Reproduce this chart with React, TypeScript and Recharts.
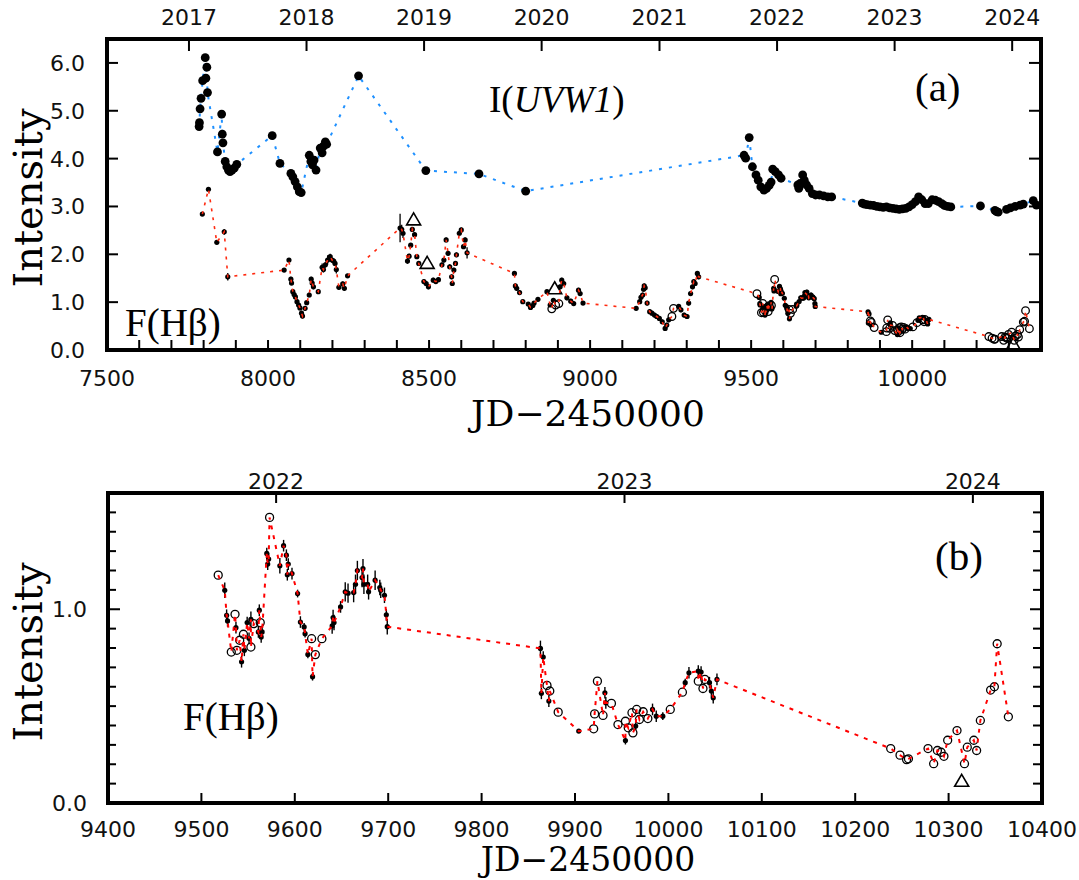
import React from "react";
import {
  ErrorBar,
  ReferenceArea,
  Scatter,
  ScatterChart,
  XAxis,
  YAxis,
} from "recharts";

// I(UVW1), panel (a)
const uvwJd = [
  7786, 7787, 7789, 7792, 7797, 7805, 7807, 7810, 7812, 7843, 7856, 7858, 7860,
  7867, 7872, 7877, 7882, 7888, 7895, 7903, 8013, 8037, 8071, 8077, 8084, 8091,
  8097, 8103, 8128, 8133, 8138, 8143, 8149, 8162, 8168, 8172, 8178, 8182, 8281,
  8490, 8655, 8800, 9478, 9483, 9494, 9504, 9515, 9522, 9530, 9540, 9548, 9556,
  9562, 9567, 9575, 9585, 9593, 9645, 9648, 9652, 9660, 9665, 9672, 9680, 9690,
  9700, 9712, 9725, 9738, 9750, 9845, 9852, 9860, 9870, 9880, 9890, 9900, 9910,
  9920, 9930, 9940, 9950, 9960, 9970, 9980, 9990, 10000, 10010, 10020, 10030,
  10040, 10050, 10062, 10072, 10082, 10092, 10100, 10110, 10120, 10212, 10257,
  10262, 10267, 10293, 10305, 10320, 10335, 10345, 10376, 10386,
];
const uvwFlux = [
  4.67, 4.75, 5.04, 5.26, 5.63, 6.11, 5.68, 5.91, 5.38, 4.14, 4.93, 4.51, 4.33,
  3.94, 3.83, 3.76, 3.73, 3.76, 3.8, 3.88, 4.48, 3.9, 3.69, 3.62, 3.52, 3.41,
  3.31, 3.29, 4.07, 3.94, 3.87, 3.97, 3.76, 4.22, 4.12, 4.26, 4.35, 4.3, 5.73,
  3.75, 3.68, 3.32, 4.07, 4.01, 4.44, 3.83, 3.66, 3.55, 3.41, 3.34, 3.38, 3.44,
  3.51, 3.78, 3.73, 3.66, 3.59, 3.45, 3.38, 3.48, 3.66, 3.55, 3.45, 3.38, 3.27,
  3.24, 3.24, 3.22, 3.2, 3.2, 3.07, 3.05, 3.04, 3.03, 3.02, 3.0, 2.99, 2.98,
  2.99, 2.97, 2.96, 2.95, 2.94, 2.95, 2.96, 2.99, 3.04, 3.1, 3.2, 3.14, 3.06,
  3.06, 3.14, 3.13, 3.1, 3.06, 3.02, 3.0, 2.99, 3.01, 2.92, 2.89, 2.88, 2.94,
  2.97, 3.0, 3.03, 3.05, 3.12, 3.03,
];

// F(Hbeta), filled points with error bars
const hbJd = [
  7796, 7815, 7841, 7864, 7875, 8050, 8065, 8071, 8073, 8077, 8081, 8085, 8090,
  8095, 8099, 8104, 8107, 8115, 8120, 8128, 8134, 8137, 8141, 8156, 8168, 8172,
  8178, 8185, 8193, 8199, 8204, 8208, 8212, 8220, 8232, 8237, 8247, 8410, 8415,
  8419, 8433, 8438, 8443, 8448, 8455, 8462, 8468, 8484, 8491, 8498, 8513, 8521,
  8529, 8540, 8546, 8553, 8559, 8564, 8570, 8572, 8577, 8582, 8585, 8594, 8600,
  8607, 8612, 8618, 8765, 8768, 8772, 8781, 8791, 8808, 8815, 8822, 8826, 8838,
  8866, 8876, 8886, 8907, 8912, 8918, 8928, 8940, 8949, 8964, 8969, 8978, 9143,
  9154, 9158, 9163, 9166, 9168, 9171, 9177, 9185, 9192, 9200, 9207, 9215, 9224,
  9233, 9238, 9244, 9275, 9282, 9292, 9301, 9306, 9312, 9318, 9322, 9326, 9333,
  9337, 9525, 9527, 9528, 9537, 9543, 9546, 9549, 9551, 9553, 9561, 9562, 9564,
  9565, 9570, 9571, 9572, 9584, 9588, 9591, 9592, 9593, 9597, 9603, 9606, 9610,
  9611, 9614, 9619, 9640, 9641, 9642, 9649, 9654, 9657, 9663, 9665, 9667, 9672,
  9673, 9674, 9678, 9679, 9686, 9691, 9692, 9696, 9698, 9699, 9863, 9864, 9866,
  9872, 9904, 9932, 9933, 9954, 9965, 9983, 9987, 9994, 10018, 10022, 10032,
  10035, 10044, 10046, 10048, 10052,
];
const hbFlux = [
  2.84, 3.36, 2.25, 2.47, 1.53, 1.67, 1.88, 1.48, 1.4, 1.22, 1.16, 1.11, 1.01,
  0.94, 0.88, 0.77, 0.71, 0.87, 0.99, 1.15, 1.48, 1.4, 1.32, 1.22, 1.73, 1.68,
  1.78, 1.88, 1.95, 1.88, 1.86, 1.81, 1.68, 1.31, 1.38, 1.29, 1.55, 2.55, 2.52,
  2.44, 1.86, 1.96, 2.19, 2.52, 2.41, 1.95, 1.81, 1.43, 1.39, 1.32, 1.46, 1.43,
  1.47, 1.78, 1.88, 2.3, 2.02, 1.74, 1.53, 1.39, 1.67, 1.81, 1.99, 2.44, 2.51,
  2.16, 2.3, 2.03, 1.6, 1.34, 1.29, 1.2, 1.01, 0.96, 0.89, 0.93, 0.98, 1.06,
  1.22, 0.94, 1.04, 1.32, 1.46, 1.39, 1.09, 1.02, 0.97, 1.25, 1.18, 0.98, 0.87,
  1.01, 1.1, 1.15, 1.27, 1.34, 1.3, 0.98, 0.8, 0.77, 0.73, 0.7, 0.66, 0.59,
  0.45, 0.52, 0.63, 0.91, 0.84, 0.73, 0.7, 0.98, 1.18, 1.32, 1.43, 1.39, 1.6,
  1.53, 1.098, 0.969, 0.94, 0.905, 0.729, 0.788, 0.931, 0.85, 0.948, 0.883,
  0.995, 0.857, 0.883, 1.288, 1.233, 1.259, 1.224, 1.328, 1.279, 1.178, 1.233,
  1.184, 1.081, 0.934, 0.909, 0.874, 0.767, 0.652, 0.914, 0.957, 0.931, 1.012,
  1.09, 1.083, 1.086, 1.129, 1.2, 1.164, 1.21, 1.129, 1.129, 1.09, 1.15, 1.112,
  1.098, 1.072, 0.971, 0.91, 0.798, 0.566, 0.753, 0.526, 0.371, 0.569, 0.517,
  0.322, 0.397, 0.483, 0.448, 0.448, 0.621, 0.672, 0.681, 0.676, 0.621, 0.578,
  0.543, 0.638,
];
const hbErr = [
  0.04, 0.04, 0.04, 0.06, 0.08, 0.04, 0.04, 0.05, 0.05, 0.05, 0.05, 0.05, 0.05,
  0.05, 0.05, 0.05, 0.05, 0.05, 0.05, 0.05, 0.05, 0.05, 0.05, 0.04, 0.08, 0.06,
  0.06, 0.1, 0.06, 0.05, 0.05, 0.05, 0.08, 0.05, 0.05, 0.05, 0.04, 0.3, 0.1,
  0.1, 0.06, 0.05, 0.04, 0.05, 0.05, 0.05, 0.05, 0.05, 0.05, 0.05, 0.05, 0.05,
  0.05, 0.05, 0.05, 0.05, 0.05, 0.05, 0.05, 0.05, 0.05, 0.05, 0.05, 0.05, 0.05,
  0.05, 0.05, 0.12, 0.04, 0.05, 0.05, 0.05, 0.04, 0.04, 0.04, 0.04, 0.04, 0.04,
  0.04, 0.04, 0.04, 0.05, 0.05, 0.05, 0.05, 0.05, 0.05, 0.05, 0.05, 0.04, 0.04,
  0.05, 0.05, 0.05, 0.05, 0.05, 0.05, 0.05, 0.05, 0.05, 0.05, 0.05, 0.05, 0.05,
  0.05, 0.05, 0.05, 0.05, 0.05, 0.05, 0.05, 0.05, 0.05, 0.05, 0.05, 0.05, 0.05,
  0.05, 0.04, 0.03, 0.03, 0.03, 0.03, 0.03, 0.03, 0.03, 0.04, 0.03, 0.03, 0.03,
  0.03, 0.03, 0.03, 0.03, 0.04, 0.03, 0.03, 0.03, 0.03, 0.03, 0.02, 0.03, 0.02,
  0.02, 0.02, 0.02, 0.04, 0.04, 0.04, 0.03, 0.05, 0.05, 0.05, 0.05, 0.05, 0.05,
  0.05, 0.05, 0.05, 0.04, 0.05, 0.04, 0.04, 0.04, 0.03, 0.04, 0.04, 0.03, 0.03,
  0.03, 0.01, 0.03, 0.03, 0.02, 0.02, 0.03, 0.03, 0.02, 0.02, 0.03, 0.03, 0.03,
  0.03, 0.03, 0.03, 0.03,
];

// F(Hbeta), open circles
const hbOpenJd = [
  8881, 8893, 8903, 9254, 9259, 9518, 9532, 9536, 9538, 9541, 9545, 9553, 9556,
  9563, 9573, 9618, 9622, 9629, 9870, 9873, 9882, 9920, 9921, 9924, 9930, 9939,
  9946, 9954, 9957, 9961, 9962, 9966, 9969, 9973, 9978, 10002, 10015, 10032,
  10037, 10039, 10238, 10248, 10255, 10257, 10278, 10284, 10288, 10292, 10295,
  10299, 10309, 10317, 10320, 10327, 10330, 10334, 10345, 10349, 10352, 10364,
];
const hbOpenFlux = [
  0.86, 0.94, 0.97, 0.7, 0.87, 1.176, 0.779, 0.974, 0.788, 0.84, 0.871, 0.805,
  0.926, 0.931, 1.474, 0.848, 0.766, 0.848, 0.607, 0.578, 0.469, 0.383, 0.46,
  0.629, 0.452, 0.514, 0.405, 0.422, 0.388, 0.466, 0.362, 0.483, 0.431, 0.471,
  0.436, 0.483, 0.572, 0.629, 0.591, 0.638, 0.281, 0.247, 0.224, 0.228, 0.281,
  0.203, 0.271, 0.262, 0.241, 0.324, 0.374, 0.203, 0.288, 0.324, 0.271, 0.426,
  0.583, 0.6, 0.822, 0.445,
];

// F(Hbeta), triangles
const hbTriJd = [8452, 8494, 8890, 10314];
const hbTriFlux = [2.72, 1.81, 1.28, 0.112];

// axes, panel (a)
const jdLabelsA = [7500, 8000, 8500, 9000, 9500, 10000];
const jdMinorA = [
  7600, 7700, 7800, 7900, 8000, 8100, 8200, 8300, 8400, 8500, 8600, 8700, 8800,
  8900, 9000, 9100, 9200, 9300, 9400, 9500, 9600, 9700, 9800, 9900, 10000,
  10100, 10200, 10300,
];
const yearJdA = [7754.5, 8119.5, 8484.5, 8849.5, 9215.5, 9580.5, 9945.5, 10310.5];
const yearLabelsA = ["2017", "2018", "2019", "2020", "2021", "2022", "2023", "2024"];
const yLabelsA = [0, 1, 2, 3, 4, 5, 6];
const yMajorA = [1, 2, 3, 4, 5, 6];

// axes, panel (b)
const jdLabelsB = [9400, 9500, 9600, 9700, 9800, 9900, 10000, 10100, 10200, 10300, 10400];
const jdMinorB = [9500, 9600, 9700, 9800, 9900, 10000, 10100, 10200, 10300];
const yearJdB = [9580, 9953, 10326];
const yearLabelsB = ["2022", "2023", "2024"];
const yLabelsB = [0, 1];
const yMinorB = [0.1, 0.2, 0.3, 0.4, 0.5, 0.6, 0.7, 0.8, 0.9, 1.1, 1.2, 1.3, 1.4, 1.5];
const yMajorB = [1];

type Pt = { x: number; y: number; err: number };
const toPts = (xs: number[], ys: number[], es?: number[]): Pt[] =>
  xs.map((x, i) => ({ x, y: ys[i], err: es ? es[i] : 0 }));

const uvwPts = toPts(uvwJd, uvwFlux);
const hbPts = toPts(hbJd, hbFlux, hbErr);
const hbOpenPts = toPts(hbOpenJd, hbOpenFlux);
const hbTriPts = toPts(hbTriJd, hbTriFlux);
const hbLinePts = [...hbPts, ...hbOpenPts].sort((a, b) => a.x - b.x);
const inB = (p: Pt) => p.x >= 9400;

const tickStroke = { stroke: "#000", strokeWidth: 2 };

// tick label drawn by hand so the font sticks
const label =
  (fmt: (v: number) => string, anchor: string, dy: string) => (p: any) => (
    <text x={p.x} y={p.y} dy={dy} textAnchor={anchor} fontFamily="DejaVu Sans"
      fontSize={22} fill="#111">
      {fmt(p.payload.value)}
    </text>
  );
const jdFmt = (v: number) => String(v);
const yFmt = (v: number) => v.toFixed(1);
const yearFmtA = (v: number) => yearLabelsA[yearJdA.indexOf(v)];
const yearFmtB = (v: number) => yearLabelsB[yearJdB.indexOf(v)];
const noLabel = () => <g />;

const dot = (r: number) => (p: any) => <circle cx={p.cx} cy={p.cy} r={r} fill="#000" />;
const ring = (r: number) => (p: any) => (
  <circle cx={p.cx} cy={p.cy} r={r} fill="none" stroke="#000" strokeWidth={1.3} />
);
const tri = (p: any) => (
  <path
    d={`M${p.cx},${p.cy - 7} L${p.cx + 7},${p.cy + 5} L${p.cx - 7},${p.cy + 5} Z`}
    fill="none"
    stroke="#000"
    strokeWidth={1.6}
  />
);
const none = () => <g />;

function PanelA() {
  const dom: [number, number] = [7500, 10400];
  const ydom: [number, number] = [0, 6.5];
  return (
    <ScatterChart width={1079} height={400} margin={{ top: 0, right: 38, bottom: 10, left: 0 }}>
      <XAxis xAxisId="b" type="number" dataKey="x" domain={dom} allowDataOverflow ticks={jdLabelsA}
        interval={0} height={40} tickLine={false} axisLine={false} tickSize={6} tickMargin={14}
        tick={label(jdFmt, "middle", "0.73em")} />
      <XAxis xAxisId="bm" type="number" dataKey="x" domain={dom} allowDataOverflow ticks={jdMinorA}
        interval={0} mirror height={1} tick={noLabel} axisLine={false} tickSize={10} tickLine={tickStroke} />
      <XAxis xAxisId="t" orientation="top" type="number" dataKey="x" domain={dom} allowDataOverflow
        ticks={yearJdA} interval={0} height={39} tickLine={false} axisLine={false} tickSize={6}
        tickMargin={8} tick={label(yearFmtA, "middle", "0")} />
      <XAxis xAxisId="tm" orientation="top" type="number" dataKey="x" domain={dom} allowDataOverflow
        ticks={yearJdA} interval={0} mirror height={1} tick={noLabel} axisLine={false} tickSize={12}
        tickLine={tickStroke} />
      <YAxis yAxisId="l" type="number" dataKey="y" domain={ydom} allowDataOverflow ticks={yLabelsA}
        interval={0} width={107} tickLine={false} axisLine={false} tickSize={6} tickMargin={16}
        tick={label(yFmt, "end", "0.36em")} />
      <YAxis yAxisId="lm" type="number" dataKey="y" domain={ydom} allowDataOverflow ticks={yMajorA}
        interval={0} mirror width={1} tick={noLabel} axisLine={false} tickSize={11} tickLine={tickStroke} />
      <YAxis yAxisId="rm" orientation="right" type="number" dataKey="y" domain={ydom} allowDataOverflow
        ticks={yMajorA} interval={0} mirror width={1} tick={noLabel} axisLine={false} tickSize={12}
        tickLine={tickStroke} />

      <Scatter xAxisId="b" yAxisId="l" data={uvwPts} shape={dot(4.4)} isAnimationActive={false}
        line={{ stroke: "#1e90ff", strokeWidth: 2, strokeDasharray: "3 7" }} lineType="joint" />
      <Scatter xAxisId="b" yAxisId="l" data={hbPts} shape={dot(2.6)} isAnimationActive={false}>
        <ErrorBar dataKey="err" direction="y" width={0} stroke="#000" strokeWidth={1.3} isAnimationActive={false} />
      </Scatter>
      <Scatter xAxisId="b" yAxisId="l" data={hbOpenPts} shape={ring(3.8)} isAnimationActive={false} />
      <Scatter xAxisId="b" yAxisId="l" data={hbTriPts} shape={tri} isAnimationActive={false} />
      <Scatter xAxisId="b" yAxisId="l" data={hbLinePts} shape={none} isAnimationActive={false}
        line={{ stroke: "#ff2a10", strokeWidth: 1.6, strokeDasharray: "3 6" }} lineType="joint" />

      <ReferenceArea xAxisId="b" yAxisId="l" x1={7500} x2={10400} y1={0} y2={6.5}
        fill="none" stroke="#000" strokeWidth={4} />
    </ScatterChart>
  );
}

function PanelB() {
  const dom: [number, number] = [9400, 10400];
  const ydom: [number, number] = [0, 1.6];
  return (
    <ScatterChart width={1079} height={440} margin={{ top: 0, right: 37, bottom: 37, left: 0 }}>
      <XAxis xAxisId="b" type="number" dataKey="x" domain={dom} allowDataOverflow ticks={jdLabelsB}
        interval={0} height={40} tickLine={false} axisLine={false} tickSize={6} tickMargin={12}
        tick={label(jdFmt, "middle", "0.73em")} />
      <XAxis xAxisId="bm" type="number" dataKey="x" domain={dom} allowDataOverflow ticks={jdMinorB}
        interval={0} mirror height={1} tick={noLabel} axisLine={false} tickSize={10} tickLine={tickStroke} />
      <XAxis xAxisId="t" orientation="top" type="number" dataKey="x" domain={dom} allowDataOverflow
        ticks={yearJdB} interval={0} height={53} tickLine={false} axisLine={false} tickSize={0}
        tickMargin={4} tick={label(yearFmtB, "middle", "0")} />
      <XAxis xAxisId="tm" orientation="top" type="number" dataKey="x" domain={dom} allowDataOverflow
        ticks={yearJdB} interval={0} mirror height={1} tick={noLabel} axisLine={false} tickSize={10}
        tickLine={tickStroke} />
      <YAxis yAxisId="l" type="number" dataKey="y" domain={ydom} allowDataOverflow ticks={yLabelsB}
        interval={0} width={108} tickLine={false} axisLine={false} tickSize={6} tickMargin={15}
        tick={label(yFmt, "end", "0.36em")} />
      <YAxis yAxisId="lm" type="number" dataKey="y" domain={ydom} allowDataOverflow ticks={yMinorB}
        interval={0} mirror width={1} tick={noLabel} axisLine={false} tickSize={7} tickLine={tickStroke} />
      <YAxis yAxisId="lM" type="number" dataKey="y" domain={ydom} allowDataOverflow ticks={yMajorB}
        interval={0} mirror width={1} tick={noLabel} axisLine={false} tickSize={12} tickLine={tickStroke} />
      <YAxis yAxisId="rm" orientation="right" type="number" dataKey="y" domain={ydom} allowDataOverflow
        ticks={yMinorB} interval={0} mirror width={1} tick={noLabel} axisLine={false} tickSize={8}
        tickLine={tickStroke} />
      <YAxis yAxisId="rM" orientation="right" type="number" dataKey="y" domain={ydom} allowDataOverflow
        ticks={yMajorB} interval={0} mirror width={1} tick={noLabel} axisLine={false} tickSize={12}
        tickLine={tickStroke} />

      <Scatter xAxisId="b" yAxisId="l" data={hbPts.filter(inB)} shape={dot(2.6)} isAnimationActive={false}>
        <ErrorBar dataKey="err" direction="y" width={0} stroke="#000" strokeWidth={1.4} isAnimationActive={false} />
      </Scatter>
      <Scatter xAxisId="b" yAxisId="l" data={hbOpenPts.filter(inB)} shape={ring(4)} isAnimationActive={false} />
      <Scatter xAxisId="b" yAxisId="l" data={hbTriPts.filter(inB)} shape={tri} isAnimationActive={false} />
      <Scatter xAxisId="b" yAxisId="l" data={hbLinePts.filter(inB)} shape={none} isAnimationActive={false}
        line={{ stroke: "#ff0000", strokeWidth: 2, strokeDasharray: "4 6" }} lineType="joint" />

      <ReferenceArea xAxisId="b" yAxisId="l" x1={9400} x2={10400} y1={0} y2={1.6}
        fill="none" stroke="#000" strokeWidth={4} />
    </ScatterChart>
  );
}

const serif = "Liberation Serif";
const titleSerif = "DejaVu Serif";

export default function App() {
  return (
    <div style={{ position: "absolute", left: 0, top: 0, width: 1079, height: 880, background: "#fff" }}>
      <div style={{ position: "absolute", left: 0, top: 0 }}>
        <PanelA />
      </div>
      <div style={{ position: "absolute", left: 0, top: 440 }}>
        <PanelB />
      </div>
      <svg width={1079} height={880} style={{ position: "absolute", left: 0, top: 0, pointerEvents: "none" }}>
        <text x={42} y={198} transform="rotate(-90 42 198)" textAnchor="middle"
          fontFamily={titleSerif} fontSize={40} fill="#000">Intensity</text>
        <text x={42} y={652} transform="rotate(-90 42 652)" textAnchor="middle"
          fontFamily={titleSerif} fontSize={40} fill="#000">Intensity</text>
        <text x={588} y={426} textAnchor="middle" fontFamily={titleSerif} fontSize={36} fill="#000">
          JD−2450000
        </text>
        <text x={588} y={871} textAnchor="middle" fontFamily={titleSerif} fontSize={33} fill="#000">
          JD−2450000
        </text>
        <text x={489} y={112} fontFamily={serif} fontSize={37} fill="#000">
          I(<tspan fontStyle="italic">UVW1</tspan>)
        </text>
        <text x={915} y={101} fontFamily={serif} fontSize={41} fill="#000">(a)</text>
        <text x={125} y={336} fontFamily={serif} fontSize={39} fill="#000">F(Hβ)</text>
        <text x={935} y={570} fontFamily={serif} fontSize={41} fill="#000">(b)</text>
        <text x={183} y={730} fontFamily={serif} fontSize={39} fill="#000">F(Hβ)</text>
      </svg>
    </div>
  );
}
